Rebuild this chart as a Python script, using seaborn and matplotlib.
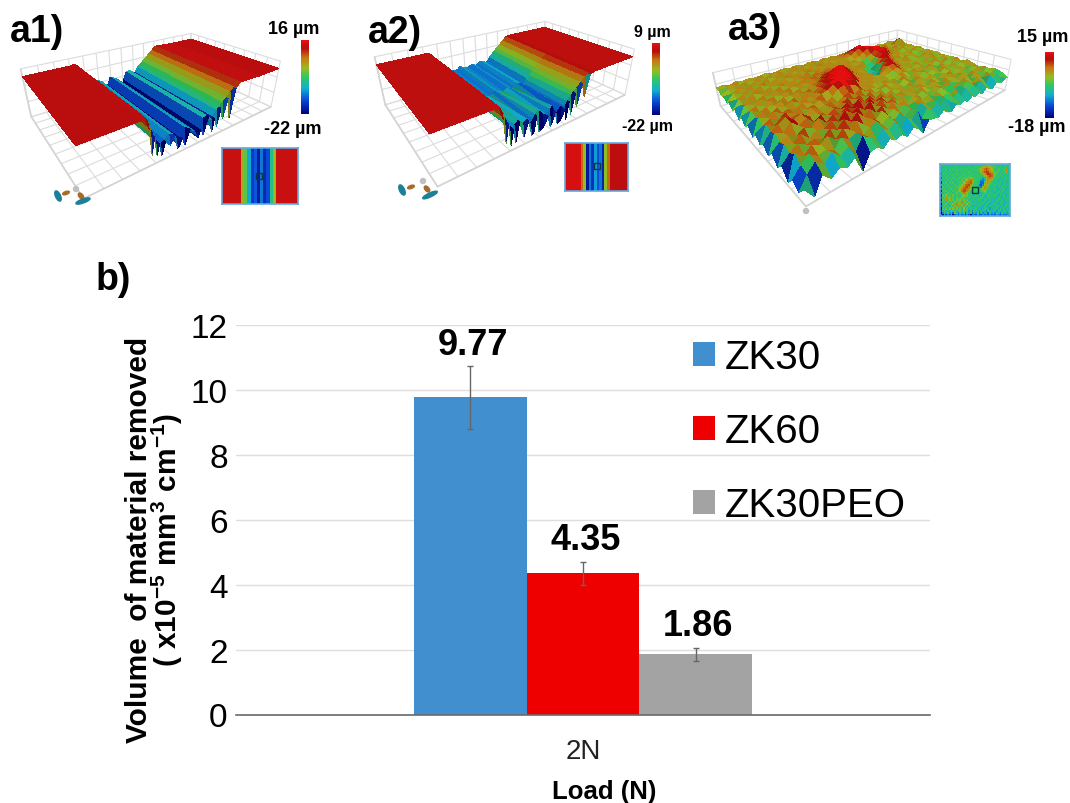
import numpy as np
import pandas as pd
import matplotlib
matplotlib.use("Agg")
import matplotlib.pyplot as plt
import seaborn as sns
from matplotlib.colors import LinearSegmentedColormap, Normalize, LightSource
from matplotlib.cm import ScalarMappable
from matplotlib.patches import Ellipse, Rectangle

# bar chart
alloys = ["ZK30", "ZK60", "ZK30PEO"]
volumes = [9.77, 4.35, 1.86]
errors = [0.96, 0.36, 0.20]
load = ["2N"] * 3
bar_colors = ["#428fd0", "#ee0000", "#a3a3a3"]

# profile across the wear track, heights in um
track_x = [0, .08, .16, .22, .24, .256, .267, .278, .289, .30, .311, .327, .349, .371, .387, .398, .409, .425, .447,
           .469, .485, .496, .507, .523, .545, .562, .573, .584, .60, .616, .632, .654, .676, .698, .72, .85, 1]
a1_body = [13, 13, 13, 13, 14, 9, 3, -3, -8, -11, -13, -11, -8, -10, -15, -20, -15, -8, -10,
           -13, -18, -21, -14, -7, -6, -10, -17, -9, -5, -3, 0, 3, 7, 10, 14, 13, 13]
a1_front = [13, 13, 13, 13, 12, 4, -18, -3, -20, -11, -22, -11, -16, -10, -22, -20, -15, -22, -10,
            -13, -18, -21, -14, -21, -6, -10, -22, -9, -19, -3, -14, 3, -16, 10, 14, 13, 13]
a1_rows = [0, .015, 1]
a2_front = [7, 7, 7, 7, 6, -2, -19, -6, -22, -12, -22, -8, -20, -10, -22, -21, -9, -22, -20,
            -13, -22, -19, -12, -22, -20, -14, -22, -9, -20, -5, -16, 1, -10, 6, 7, 7, 7]
a2_mid = [7, 7, 7, 7, 7, 3, -2, -6, -9, -12, -10, -8, -11, -10, -14, -12, -9, -7, -11,
          -13, -10, -8, -12, -15, -11, -14, -12, -9, -6, -4, -2, 1, 4, 6, 7, 7, 7]
a2_back = [7, 7, 7, 7, 7, 2, -4, -8, -11, -14, -13, -12, -13, -14, -13, -11, -12, -13, -14,
           -12, -13, -14, -13, -11, -12, -14, -13, -10, -8, -5, -3, 0, 3, 6, 7, 7, 7]
a2_rows = [0, .015, .45, 1]

a1_inset = [14, 14, 14, 14, 14, 14, 3, -1, -9, -16, -14, -19, -12, -18, -15, -5, 2, 14, 14, 14, 14, 14, 14, 14]
a2_inset = [8, 8, 8, 8, 8, 8, 2, -3, -20, -14, -18, -12, -16, -14, -19, -3, 2, 6, 6, 6, 6, 6, 6, 6]

# a3 height map, front row first
a3_heights = [
    [-6, -16, -2, -9, -4, -7, -2, -18, -5, -3, -8, -2, -6, -4, -9, -3, -7, -14, -4, -5, -7, -2, -6, -8, -3, -6, -4, -7, -3, -6, -4, -7, -2, -5, -8, -3, -5, -6, -3, -4],
    [-14, -4, 3, -2, 4, -3, 2, -6, 5, 1, -5, 3, -2, 4, -6, 2, -3, 4, -7, 1, -3, 3, -5, 2, -4, -2, 1, -6, 2, -3, 1, -4, 2, -1, -5, 3, -2, 1, -4, 0],
    [-9, -1, 5, 0, 2, -2, 6, 1, 4, -1, 3, 6, 0, 5, -1, 3, -3, 2, -4, 3, 0, 1, -3, 2, -1, 0, -4, 1, 2, -2, 3, 0, -3, 2, 1, -2, 3, -1, 0, 2],
    [-16, 4, -1, 5, 2, 6, 0, 7, 3, 8, 2, 5, 1, 7, 0, 4, -1, 3, 0, 1, 3, -1, 2, -2, 1, 3, -1, 2, -3, 1, 0, 2, 1, -2, 3, 0, 2, -1, 3, 0],
    [-7, 0, 5, 1, 3, -1, 6, 2, 9, 4, 10, 3, 8, 2, 6, 1, 5, 0, 2, -2, 2, 1, 3, 0, -1, 2, 1, -2, 3, 0, 2, -1, 3, 1, -2, 2, 0, 3, -1, 1],
    [-13, 3, 1, 6, -1, 4, 2, 7, 3, 11, 6, 9, 4, 10, 3, 7, 1, 4, -1, 3, 0, 2, -1, 3, 1, -1, 3, 0, -2, 2, 1, 3, -1, 0, 2, 1, -2, 2, 1, -1],
    [-5, 1, 4, 0, 5, 2, 8, 1, 6, 3, 8, 5, 11, 4, 7, 2, 5, 1, 3, 0, 2, -1, 3, 0, 2, 1, -1, 2, 1, -2, 3, 0, 2, -1, 1, 3, 0, -1, 2, 1],
    [-12, 5, 2, 9, 3, 7, 1, 5, 2, 6, 3, 7, 2, 6, 1, 5, 0, 3, -1, 2, 1, 3, 0, 2, -2, 3, 1, -1, 2, 0, 1, -1, 3, 1, 0, 2, -1, 2, 0, 3],
    [-6, 2, 6, 10, 5, 8, 3, 4, 1, 5, 2, 4, 6, 3, 5, 1, 4, 0, 2, 3, 0, 2, -1, 4, 1, -1, 2, 0, 3, -1, 2, 1, -2, 3, 1, -1, 2, 1, 3, -1],
    [-10, 5, 1, 7, 3, 4, 0, 5, 2, 3, 4, 1, 5, 7, 3, 6, 2, 3, 1, 0, 3, 1, 2, 0, 3, 0, -1, 3, 1, 2, 0, 3, 1, -1, 2, 0, 3, -1, 1, 2],
    [-4, 0, 4, 1, 5, 2, 4, 1, 3, 5, 1, 4, 9, 12, 10, 8, 3, 2, 3, 2, 1, 2, 0, -1, 2, 4, 2, 0, 3, 1, 2, -1, 2, 1, 3, 1, -1, 2, 0, 1],
    [-11, 4, 2, 5, 1, 3, 0, 4, 2, 3, 6, 8, 12, 14, 13, 11, 9, 3, 2, 3, 2, 1, 2, 3, 5, 7, 3, 1, 2, 0, 3, 1, 0, 2, -1, 3, 1, 0, 2, 1],
    [-3, 1, 4, 0, 3, 2, 5, 1, 4, 2, 5, 7, 10, 13, 14, 12, 10, 7, 3, 2, 3, 2, 1, 4, 8, 9, 6, 3, 1, 2, 0, 3, 1, -1, 2, 1, 3, -1, 1, 0],
    [-8, 4, 0, 3, 2, 4, 0, 3, 1, 5, 2, 6, 8, 11, 13, 14, 12, 9, 3, 3, 2, 2, -3, -5, 6, 10, 8, 4, 2, 0, 3, 1, -1, 2, 0, 3, 1, 2, -1, 2],
    [-2, 0, 3, 1, 4, 0, 3, 2, 4, 1, 3, 4, 7, 9, 12, 13, 14, 10, 6, 3, 2, 1, -5, -7, -4, 7, 10, 6, 3, 2, 1, 3, 0, 2, 1, -1, 3, 0, 2, 1],
    [-9, 3, 1, 4, 1, 3, 2, 4, 0, 3, 1, 4, 3, 7, 8, 11, 12, 13, 8, 3, 3, 2, -2, -6, -6, 4, 9, 9, 5, 2, 3, 0, 2, 1, 3, -1, 2, 1, -1, 2],
    [-1, 1, 3, 0, 3, 1, 4, 1, 3, 2, 4, 2, 5, 3, 6, 7, 10, 12, 10, 4, 2, 3, 2, -3, -5, -2, 7, 10, 8, 4, 1, 3, 1, 0, 2, 1, 3, 0, 2, 0],
    [-6, 3, 0, 4, 2, 3, 0, 4, 2, 3, 1, 4, 2, 5, 3, 5, 4, 7, 9, 3, 3, 2, 1, 2, -3, 1, 6, 11, 12, 9, 5, 2, 3, 1, -1, 2, 0, 3, 1, 2],
    [0, 0, 3, 1, 3, 0, 3, 2, 3, 1, 3, 2, 4, 1, 4, 2, 4, 3, 3, 2, 3, 2, 3, 1, 2, 5, 8, 12, 14, 13, 8, 4, 2, 3, 1, 3, 0, 2, 1, 0],
    [-4, 3, 1, 3, 0, 4, 1, 3, 1, 4, 2, 3, 1, 4, 2, 3, 2, 3, 2, 3, 2, 3, 1, 3, 5, 9, 13, 15, 14, 12, 10, 6, 3, 1, 4, 0, 3, 1, 3, 1],
    [0, 0, 3, 1, 3, 1, 3, 0, 3, 2, 3, 1, 3, 2, 3, 1, 4, 2, 3, 1, 3, 2, 4, 6, 10, 13, 15, 14, 11, 9, 7, 3, 5, 2, 1, 3, 1, 9, 1, 0],
    [-2, 2, 1, 3, 0, 3, 1, 3, 2, 3, 1, 3, 2, 3, 1, 3, 2, 3, 1, 3, 2, 4, 3, 7, 9, 12, 14, 12, 9, 7, 4, 3, 2, 4, 1, 2, 3, 10, 2, 1],
    [1, 1, 3, 0, 2, 1, 3, 1, 2, 3, 2, 1, 3, 1, 3, 2, 3, 1, 3, 2, 3, 2, 4, 3, 6, 8, 10, 9, 7, 5, 3, 4, 2, 1, 3, 2, 1, 3, 1, 2],
    [1, 2, 0, 3, 1, 2, 1, 2, 3, 1, 2, 3, 1, 3, 2, 1, 3, 2, 1, 3, 2, 3, 1, 3, 2, 4, 5, 6, 4, 3, 2, 3, 1, 3, 2, 1, 3, 2, 0, 1],
]

W, H = 1070, 804
sns.set_theme(style="whitegrid")
plt.rcParams["font.family"] = ["Liberation Sans", "DejaVu Sans"]
plt.rcParams["mathtext.fontset"] = "custom"
plt.rcParams["mathtext.bf"] = "Liberation Sans:bold"
plt.rcParams["mathtext.rm"] = "Liberation Sans"

height_cmap = LinearSegmentedColormap.from_list("profilometer", [
    (0, "#00007a"), (.18, "#0a45d8"), (.35, "#10b0d0"), (.5, "#30c860"), (.62, "#98bc20"),
    (.76, "#c87810"), (.89, "#b80d0d"), (.95, "#c81010"), (1, "#ee1010")])


def px_rect(left, top, right, bottom):
    return [left / W, 1 - bottom / H, (right - left) / W, (bottom - top) / H]


def surface_panel(rect, x, y, z, zrange, zlim, aspect, zoom, elev, azim, focal):
    ax = fig.add_axes(px_rect(*rect), projection="3d", facecolor="none")
    # x and y in the same units as z so the shading sees true slopes
    zspan = zlim[1] - zlim[0]
    sx = aspect[0] / aspect[2] * zspan
    sy = aspect[1] / aspect[2] * zspan
    X, Y = np.meshgrid(np.array(x) * sx, np.array(y) * sy)
    Z = np.array(z, dtype=float)
    norm = Normalize(*zrange)
    surf = ax.plot_surface(X, Y, Z, facecolors=height_cmap(norm(Z)), rstride=1, cstride=1, linewidth=0,
                           antialiased=False, shade=True, lightsource=LightSource(azdeg=200, altdeg=65))
    surf.set_clip_on(False)
    ax.set_xlim(0, sx)
    ax.set_ylim(0, sy)
    ax.set_zlim(*zlim)
    ax.set_xticks(np.arange(0, 1.01, 1 / 14) * sx)
    ax.set_yticks(np.arange(0, 1.01, 1 / 9) * sy)
    ax.set_zticks(np.linspace(zlim[0], zlim[1], 4))
    ax.set_xticklabels([])
    ax.set_yticklabels([])
    ax.set_zticklabels([])
    for axis in (ax.xaxis, ax.yaxis, ax.zaxis):
        axis.set_pane_color((1, 1, 1, 0))
        axis.pane.set_edgecolor("#d4d4d4")
        axis.line.set_color("#d4d4d4")
        axis._axinfo["grid"]["color"] = "#dcdcdc"
        axis._axinfo["grid"]["linewidth"] = 0.8
        axis._axinfo["tick"]["inward_factor"] = 0
        axis._axinfo["tick"]["outward_factor"] = 0
    ax.set_proj_type("persp", focal_length=focal)
    ax.view_init(elev=elev, azim=azim)
    ax.set_box_aspect(aspect, zoom=zoom)
    return ax


def inset_heat(rect, values, zrange):
    ax = fig.add_axes(px_rect(*rect))
    sns.heatmap(values, ax=ax, cmap=height_cmap, vmin=zrange[0], vmax=zrange[1], cbar=False,
                xticklabels=False, yticklabels=False)
    for s in ax.spines.values():
        s.set_visible(True)
        s.set_color("#62a8e0")
        s.set_linewidth(1.2)
    return ax


def color_scale(rect, zrange):
    ax = fig.add_axes(px_rect(*rect))
    cb = fig.colorbar(ScalarMappable(Normalize(*zrange), height_cmap), cax=ax)
    cb.set_ticks([])
    cb.outline.set_visible(False)


fig = plt.figure(figsize=(W / 100, H / 100), dpi=100, facecolor="white")

surface_panel((-3, -12, 307, 198), track_x, a1_rows, [a1_front, a1_body, a1_body], (-22, 16), (-26, 20),
              (230, 140, 56), 1.18, 26, -126, 0.25)
surface_panel((356, -24, 656, 186), track_x, a2_rows, [a2_front, a2_mid, a2_back, a2_back], (-22, 9), (-26, 13),
              (230, 140, 56), 1.18, 26, -126, 0.25)
a3_x = np.linspace(0, 1, len(a3_heights[0]))
a3_y = np.linspace(0, 1, len(a3_heights))
surface_panel((700, -24, 1035, 196), a3_x, a3_y, a3_heights, (-20, 12), (-20, 18),
              (250, 168, 36), 1.3, 24, -131, 0.25)

inset_heat((222, 149, 298, 205), [a1_inset], (-22, 16))
inset_heat((565, 144, 628, 192), [a2_inset], (-22, 9))
inset_heat((940, 165, 1010, 217), a3_heights[::-1], (-14, 20))

color_scale((301, 41, 309, 115), (-22, 16))
color_scale((652, 44, 660, 116), (-22, 9))
color_scale((1045, 53, 1054, 119), (-18, 15))

# wear volume bars
df = pd.DataFrame({"Load": load, "Alloy": alloys, "Volume": volumes})
ax = fig.add_axes(px_rect(236, 326, 930, 715.5))
sns.barplot(data=df, x="Load", y="Volume", hue="Alloy", palette=bar_colors, saturation=1,
            width=0.487, gap=0, dodge=True, ax=ax, linewidth=0, errorbar=None)
ax.set_xlim(-0.5, 0.5)
ax.set_ylim(0, 12)
ax.set_yticks(range(0, 13, 2))
ax.grid(axis="y", color="#dedede", linewidth=1)
ax.grid(axis="x", visible=False)
ax.set_axisbelow(True)
for s in ["left", "right", "top"]:
    ax.spines[s].set_visible(False)
ax.spines["bottom"].set_color("#6a6a6a")
ax.spines["bottom"].set_linewidth(1.2)
ax.tick_params(axis="y", labelsize=24, length=0, pad=6, labelcolor="black")
ax.tick_params(axis="x", labelsize=20, length=0, pad=17, labelcolor="#222222")

for container, val, err in zip(ax.containers, volumes, errors):
    bar = container[0]
    mid = bar.get_x() + bar.get_width() / 2
    ax.errorbar(mid, val, yerr=err, color="#666666", capsize=2, elinewidth=1, capthick=1)
    ax.annotate(f"{val:.2f}", (mid, val + err), xytext=(2, 3), textcoords="offset points",
                ha="center", va="bottom", fontsize=26, fontweight="bold", color="black")

ax.set_ylabel("Volume  of material removed\n( x10$^{\\mathbf{-5}}$ mm$^{\\mathbf{3}}$ cm$^{\\mathbf{-1}}$)",
              fontsize=21.5, fontweight="bold", color="black", linespacing=0.85)
ax.yaxis.set_label_coords(-0.074, 0.45)
ax.set_xlabel("Load (N)", fontsize=18.5, fontweight="bold", color="black")
ax.xaxis.set_label_coords(0.53, -0.165)

sns.move_legend(ax, "upper left", bbox_to_anchor=(0.635, 1.008), title=None, frameon=False, fontsize=29,
                labelspacing=0.9, handlelength=0.55, handleheight=0.55, handletextpad=0.25, borderaxespad=0,
                labelcolor="black")

# labels and small decorations in picture pixels
ov = fig.add_axes([0, 0, 1, 1], facecolor="none", zorder=10)
ov.set_xlim(0, W)
ov.set_ylim(H, 0)
ov.axis("off")
for txt, x, y in [("a1)", 10, 32), ("a2)", 368, 33), ("a3)", 728, 30), ("b)", 96, 280)]:
    ov.text(x, y, txt, fontsize=27, fontweight="bold", va="center", ha="left", color="black")
for txt, x, y, size in [("16 µm", 294, 30, 13), ("-22 µm", 293, 129, 13), ("9 µm", 652, 33, 11.5),
                        ("-22 µm", 647, 127, 11.5), ("15 µm", 1043, 38, 13), ("-18 µm", 1037, 127, 13)]:
    ov.text(x, y, txt, fontsize=size, fontweight="bold", va="center", ha="center", color="black")
for cx, cy in [(76, 190), (423, 182), (806, 212)]:
    ov.add_patch(Ellipse((cx, cy), 5, 5, color="#c0c0c0"))
for ex, ey, w, h, ang, col in [(58, 197, 11, 5, 65, "#1d7f98"), (66, 194, 7, 3, -20, "#a86a28"),
                               (81, 197, 7, 4, 50, "#a86a28"), (83, 202, 15, 4, -20, "#1d7f98"),
                               (402, 191, 11, 5, 65, "#1d7f98"), (411, 188, 7, 3, -20, "#a86a28"),
                               (427, 190, 7, 4, 50, "#a86a28"), (430, 196, 16, 4, -25, "#1d7f98")]:
    ov.add_patch(Ellipse((ex, ey), w, h, angle=ang, color=col))
for rx, ry in [(259, 177), (597, 167), (975, 191)]:
    ov.add_patch(Rectangle((rx - 3, ry - 3), 6, 6, fill=False, edgecolor="#103838", linewidth=1))

fig.savefig("out.png", dpi=100)
